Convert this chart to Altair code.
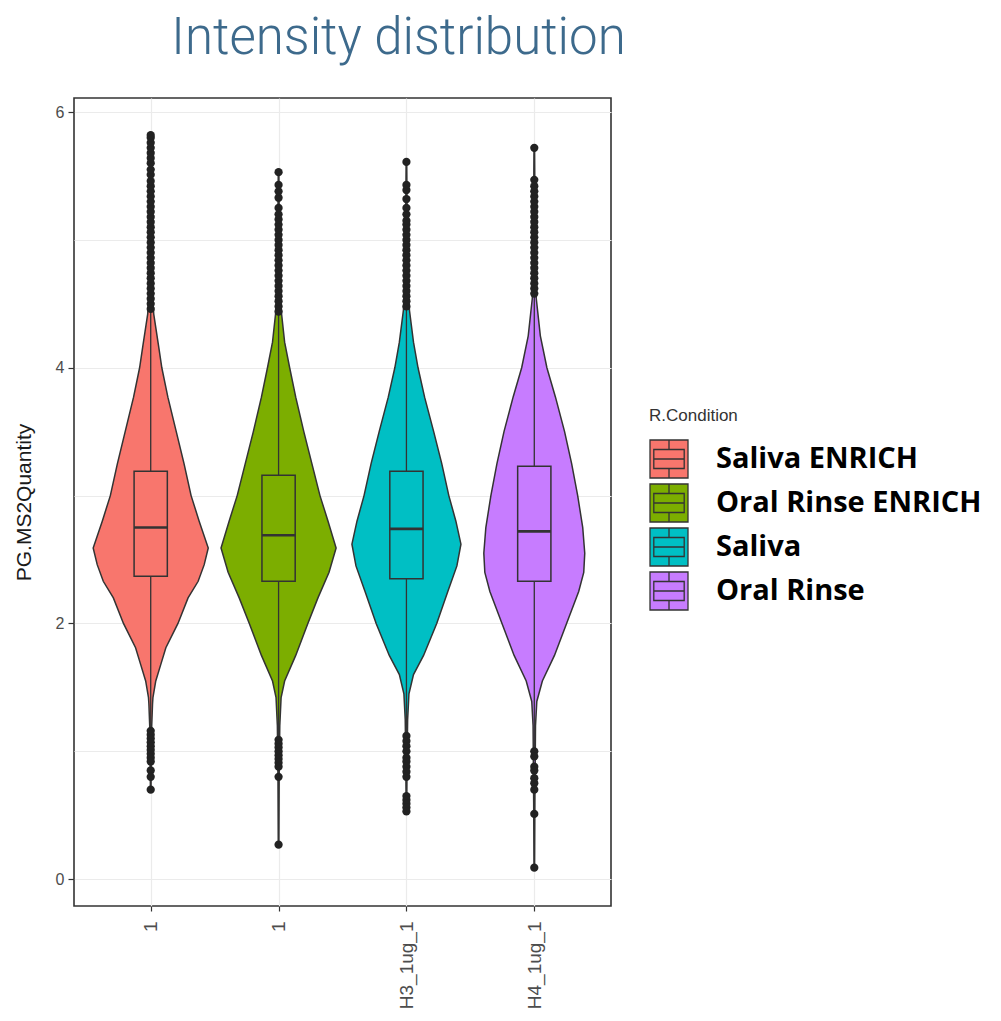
import json
import altair as alt
import pandas as pd

# ---------------- data ----------------
conditions = ["Saliva ENRICH", "Oral Rinse ENRICH", "Saliva", "Oral Rinse"]
x_labels = ["1", "1", "H3_1ug_1", "H4_1ug_1"]
palette = ["#F8766D", "#7CAE00", "#00BFC4", "#C77CFF"]

# violin outlines: value grid and relative density
saliva_enrich_y = [0.70, 1.00, 1.20, 1.37, 1.42, 1.55, 1.68, 1.81, 2.00, 2.20, 2.33, 2.46,
                   2.59, 2.80, 3.00, 3.25, 3.51, 3.77, 4.00, 4.16, 4.42, 4.60, 5.00, 5.82]
saliva_enrich_d = [0.3, 0.6, 1.0, 1.8, 2.2, 5, 10, 15, 27, 37, 47, 53,
                   57, 48, 40, 33, 25, 17, 11, 8, 3, 1.5, 0.8, 0.3]

oral_enrich_y = [0.27, 0.80, 1.20, 1.42, 1.55, 1.75, 2.00, 2.20, 2.40, 2.59, 2.80,
                 3.00, 3.25, 3.50, 3.77, 4.00, 4.20, 4.42, 4.60, 5.00, 5.53]
oral_enrich_d = [0.3, 0.6, 1.2, 2.5, 6, 17, 29, 39, 50, 57, 49,
                 41, 33, 25, 17, 11, 6, 3, 1.5, 0.8, 0.3]

saliva_y = [0.53, 0.90, 1.25, 1.45, 1.60, 1.75, 2.00, 2.25, 2.45, 2.62, 2.80,
            3.00, 3.25, 3.50, 3.77, 4.00, 4.20, 4.45, 4.70, 5.10, 5.61]
saliva_d = [0.3, 0.6, 1.2, 2.5, 7, 17, 30, 41, 50, 54, 49,
            42, 35, 27, 18, 11.5, 7, 3, 1.5, 0.8, 0.3]

oral_y = [0.09, 0.60, 1.20, 1.39, 1.55, 1.75, 2.00, 2.25, 2.40, 2.55, 2.75,
          3.00, 3.25, 3.50, 3.77, 4.00, 4.25, 4.54, 4.80, 5.20, 5.72]
oral_d = [0.3, 0.6, 1.2, 2.5, 8, 20, 32, 44, 49, 50, 48,
          43, 37, 30, 21, 12.5, 6, 2, 1.2, 0.7, 0.3]

# boxplot statistics
q1 = [2.37, 2.33, 2.35, 2.33]
median = [2.75, 2.69, 2.74, 2.72]
q3 = [3.19, 3.16, 3.19, 3.23]
whisker_low = [1.17, 1.12, 1.15, 1.02]
whisker_high = [4.44, 4.42, 4.46, 4.56]

# outliers
saliva_enrich_out = [4.46, 4.50, 4.54, 4.58, 4.62, 4.66, 4.70, 4.74, 4.78, 4.82, 4.86, 4.90,
                     4.94, 4.98, 5.02, 5.06, 5.10, 5.14, 5.18, 5.22, 5.26, 5.30, 5.34, 5.38,
                     5.42, 5.46, 5.51, 5.55, 5.60, 5.64, 5.68, 5.72, 5.76, 5.80, 5.82,
                     1.16, 1.13, 1.10, 1.07, 1.04, 1.01, 0.98, 0.95, 0.92, 0.85, 0.80, 0.70]
oral_enrich_out = [4.44, 4.48, 4.52, 4.56, 4.60, 4.64, 4.68, 4.72, 4.76, 4.80, 4.84, 4.88,
                   4.92, 4.96, 5.00, 5.04, 5.08, 5.12, 5.16, 5.20, 5.25, 5.33, 5.38, 5.43, 5.53,
                   1.09, 1.06, 1.03, 1.00, 0.97, 0.94, 0.91, 0.88, 0.80, 0.27]
saliva_out = [4.48, 4.52, 4.56, 4.60, 4.64, 4.68, 4.72, 4.76, 4.80, 4.84, 4.88, 4.92,
              4.96, 5.00, 5.04, 5.08, 5.12, 5.15, 5.20, 5.25, 5.32, 5.39, 5.43, 5.61,
              1.12, 1.08, 1.04, 1.00, 0.95, 0.92, 0.88, 0.84, 0.80, 0.65, 0.62, 0.59, 0.56, 0.53]
oral_out = [4.58, 4.62, 4.66, 4.70, 4.74, 4.78, 4.82, 4.86, 4.90, 4.94, 4.98, 5.02,
            5.06, 5.10, 5.14, 5.18, 5.22, 5.26, 5.30, 5.34, 5.38, 5.42, 5.47, 5.72,
            1.00, 0.96, 0.88, 0.85, 0.79, 0.75, 0.70, 0.51, 0.09]

# ---------------- tables ----------------
violin_y = [saliva_enrich_y, oral_enrich_y, saliva_y, oral_y]
violin_d = [saliva_enrich_d, oral_enrich_d, saliva_d, oral_d]
outliers = [saliva_enrich_out, oral_enrich_out, saliva_out, oral_out]

max_d = max(max(d) for d in violin_d)
half_width = 0.45   # ggplot violin width 0.9
box_half = 0.13

vrows, brows, orows = [], [], []
for i, cond in enumerate(conditions):
    pos = i + 1
    for yv, dv in zip(violin_y[i], violin_d[i]):
        hw = dv / max_d * half_width
        vrows.append({"cond": cond, "val": yv, "xl": pos - hw, "xr": pos + hw})
    brows.append({"cond": cond, "pos": pos, "bl": pos - box_half, "br": pos + box_half,
                  "q1": q1[i], "med": median[i], "q3": q3[i],
                  "lo": whisker_low[i], "hi": whisker_high[i]})
    for o in outliers[i]:
        orows.append({"cond": cond, "pos": pos, "val": o})

vdf = pd.DataFrame(vrows)
bdf = pd.DataFrame(brows)
odf = pd.DataFrame(orows)

# ---------------- scales / axes ----------------
dark = "#333333"
xscale = alt.Scale(domain=[0.4, 4.6], nice=False, zero=False)
yscale = alt.Scale(domain=[-0.21, 6.11], nice=False, zero=False)

label_expr = json.dumps(x_labels) + "[datum.value - 1]"
xaxis = alt.Axis(values=[1, 2, 3, 4], labelExpr=label_expr, title=None,
                 labelAngle=270, labelAlign="right", labelBaseline="middle",
                 labelFont="Liberation Sans", labelFontSize=19, labelColor="#4D4D4D",
                 labelPadding=10, tickSize=5, tickColor=dark, tickWidth=1.2,
                 grid=True, gridColor="#EBEBEB", gridWidth=1.2, domain=False)
yaxis = alt.Axis(values=[0, 1, 2, 3, 4, 5, 6],
                 labelExpr="datum.value % 2 == 0 ? format(datum.value, 'd') : ''",
                 title="PG.MS2Quantity", titleFont="Liberation Sans", titleFontSize=21,
                 titleFontWeight="normal", titleColor="#1a1a1a", titlePadding=21,
                 labelFont="Liberation Sans", labelFontSize=16, labelColor="#4D4D4D",
                 labelPadding=4, tickSize=6, tickColor=dark, tickWidth=1.2,
                 tickOpacity={"condition": {"test": "datum.value % 2 == 1", "value": 0}, "value": 1},
                 grid=True, gridColor="#EBEBEB", gridWidth=1.2, domain=False)

glyph = "M-1,-1H1V1H-1Z M-0.8,-0.5H0.8V0.5H-0.8Z M-0.8,0H0.8 M0,-1V-0.5 M0,0.5V1"
color = alt.Color("cond:N", scale=alt.Scale(domain=conditions, range=palette),
                  legend=alt.Legend(title="R.Condition", orient="none", legendX=575, legendY=310,
                                    symbolType=glyph, symbolSize=1444,
                                    symbolStrokeColor=dark, symbolStrokeWidth=1.3,
                                    symbolOpacity=1,
                                    labelFont="Open Sans", labelFontSize=29,
                                    labelFontWeight="bold", labelColor="#000000",
                                    labelOffset=27, labelLimit=400,
                                    titleFont="Liberation Sans", titleFontSize=17,
                                    titleFontWeight="normal", titleColor="#333333",
                                    titlePadding=14, rowPadding=0, padding=0))

violin = alt.Chart(vdf).mark_area(orient="horizontal", stroke=dark, strokeWidth=1.5,
                                  opacity=1).encode(
    y=alt.Y("val:Q", scale=yscale, axis=yaxis),
    x=alt.X("xl:Q", scale=xscale, axis=xaxis, stack=False),
    x2="xr:Q",
    color=color,
)

whisk_hi = alt.Chart(bdf).mark_rule(color=dark, strokeWidth=1.3).encode(
    x=alt.X("pos:Q", scale=xscale), y=alt.Y("q3:Q", scale=yscale), y2="hi:Q")
whisk_lo = alt.Chart(bdf).mark_rule(color=dark, strokeWidth=1.3).encode(
    x=alt.X("pos:Q", scale=xscale), y=alt.Y("lo:Q", scale=yscale), y2="q1:Q")

box = alt.Chart(bdf).mark_rect(stroke=dark, strokeWidth=1.5, opacity=1).encode(
    x=alt.X("bl:Q", scale=xscale), x2="br:Q",
    y=alt.Y("q1:Q", scale=yscale), y2="q3:Q",
    color=alt.Color("cond:N", scale=alt.Scale(domain=conditions, range=palette), legend=None),
)
med = alt.Chart(bdf).mark_rule(color=dark, strokeWidth=2.6).encode(
    x=alt.X("bl:Q", scale=xscale), x2="br:Q", y=alt.Y("med:Q", scale=yscale))

pts = alt.Chart(odf).mark_circle(size=68, color="#222222", opacity=1).encode(
    x=alt.X("pos:Q", scale=xscale), y=alt.Y("val:Q", scale=yscale))

chart = alt.layer(violin, whisk_hi, whisk_lo, box, med, pts).properties(
    width=537, height=808,
    background="white",
    autosize=alt.AutoSizeParams(type="none"),
    padding={"left": 66, "top": 90, "right": 382, "bottom": 106},
    title=alt.TitleParams(text="Intensity distribution", font="Roboto", fontSize=51,
                          fontWeight=300, color="#3d6a8c", anchor="middle", dx=56,
                          offset=33),
).configure_view(stroke=dark, strokeWidth=1.6)

chart.save("out.html", embed_options={"renderer": "svg", "actions": False})
